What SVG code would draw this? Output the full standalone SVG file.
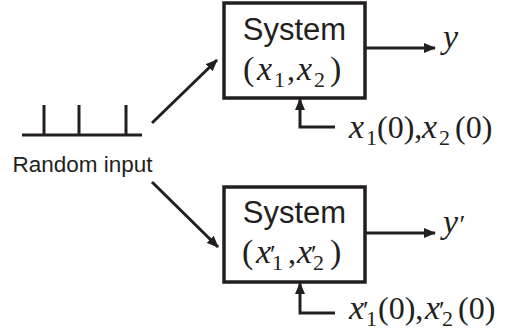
<svg xmlns="http://www.w3.org/2000/svg" width="506" height="335" viewBox="0 0 506 335">
<style>
.box{fill:#fff;stroke:#231f20;stroke-width:3.5}
.ln{fill:none;stroke:#231f20;stroke-width:3}
.sans{font-family:"Liberation Sans",Arial,sans-serif;fill:#231f20}
.math{font-family:"Liberation Serif","Times New Roman",serif;fill:#231f20;font-size:32px}
.it{font-style:italic;font-size:34px}
.sub{font-size:22px}
.par{font-size:34px}
.pr{font-size:26px}
</style>
<defs>
<marker id="ah" viewBox="0 0 12 10" refX="11" refY="5" markerWidth="4" markerHeight="3.4" orient="auto" markerUnits="strokeWidth">
<path d="M0,0 L12,5 L0,10 z" fill="#231f20"/>
</marker>
</defs>
<g id="random-input">
<path class="ln" d="M22,135 H142 M44,105 V135 M79,105 V135 M126,105 V135"/>
<text class="sans" x="82.5" y="172" font-size="22.5" text-anchor="middle">Random input</text>
</g>
<g id="system1">
<rect class="box" x="224" y="3" width="141" height="95"/>
<text class="sans" x="294.5" y="40" font-size="31" text-anchor="middle">System</text>
<text class="math" y="80"><tspan class="par" x="243">(</tspan><tspan class="it" x="257">x</tspan><tspan class="sub" x="274" y="87">1</tspan><tspan x="287" y="80">,</tspan><tspan class="it" x="297">x</tspan><tspan class="sub" x="314" y="87">2</tspan><tspan class="par" x="330" y="80">)</tspan></text>
</g>
<g id="system2">
<rect class="box" x="224" y="187" width="141" height="95"/>
<text class="sans" x="294.5" y="223" font-size="31" text-anchor="middle">System</text>
<text class="math" y="263"><tspan class="par" x="242">(</tspan><tspan class="it" x="256">x</tspan><tspan class="pr" x="270" y="263">′</tspan><tspan class="sub" x="272" y="270">1</tspan><tspan x="288" y="263">,</tspan><tspan class="it" x="297">x</tspan><tspan class="pr" x="311" y="263">′</tspan><tspan class="sub" x="313" y="270">2</tspan><tspan class="par" x="330" y="263">)</tspan></text>
</g>
<g id="out1"><text class="math it" x="443" y="48">y</text></g>
<g id="out2"><text class="math it" x="443" y="233">y<tspan class="pr">′</tspan></text></g>
<g id="ic1"><text class="math" y="138"><tspan class="it" x="349">x</tspan><tspan class="sub" x="366" y="145">1</tspan><tspan x="377" y="138">(0),</tspan><tspan class="it" x="422">x</tspan><tspan class="sub" x="439" y="145">2</tspan><tspan x="455" y="138">(0)</tspan></text></g>
<g id="ic2"><text class="math" y="319"><tspan class="it" x="349">x</tspan><tspan class="pr" x="363" y="319">′</tspan><tspan class="sub" x="366" y="326">1</tspan><tspan x="378" y="319">(0),</tspan><tspan class="it" x="425">x</tspan><tspan class="pr" x="439" y="319">′</tspan><tspan class="sub" x="442" y="326">2</tspan><tspan x="458" y="319">(0)</tspan></text></g>
<g id="connectors">
<path class="ln" d="M152,123 L217,60" marker-end="url(#ah)"/>
<path class="ln" d="M152,182 L218,247" marker-end="url(#ah)"/>
<path class="ln" d="M365,48 H435" marker-end="url(#ah)"/>
<path class="ln" d="M365,233 H435" marker-end="url(#ah)"/>
<path class="ln" d="M335,127 H300 V99" marker-end="url(#ah)"/>
<path class="ln" d="M335,313 H300 V283" marker-end="url(#ah)"/>
</g>
</svg>
